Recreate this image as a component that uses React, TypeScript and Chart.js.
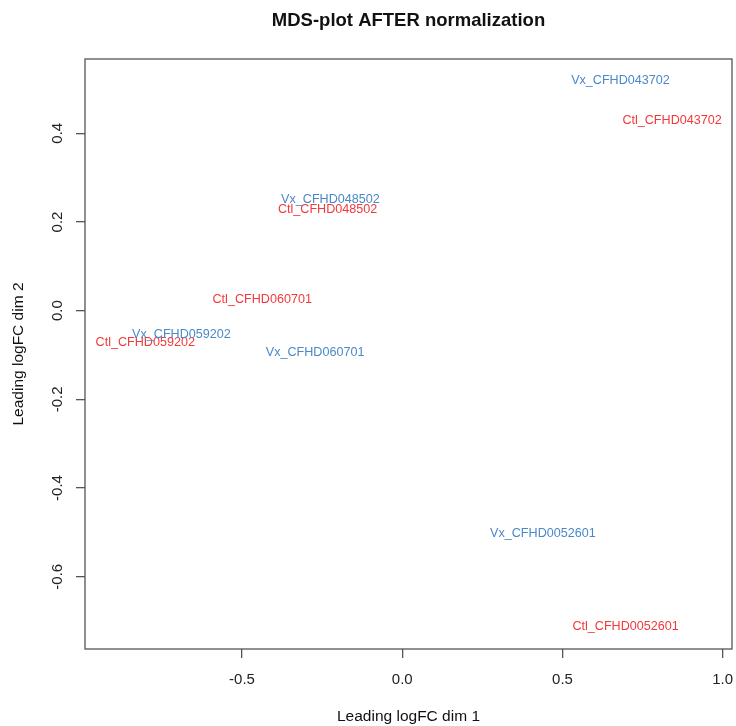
import React, { useEffect, useRef } from "react";
import { Chart, registerables } from "chart.js";

Chart.register(...registerables);

const ctlNames = ["Ctl_CFHD043702", "Ctl_CFHD048502", "Ctl_CFHD060701", "Ctl_CFHD059202", "Ctl_CFHD0052601"];
const ctlX = [0.842, -0.233, -0.437, -0.802, 0.697];
const ctlY = [0.428, 0.229, 0.026, -0.071, -0.713];

const vxNames = ["Vx_CFHD043702", "Vx_CFHD048502", "Vx_CFHD059202", "Vx_CFHD060701", "Vx_CFHD0052601"];
const vxX = [0.681, -0.224, -0.689, -0.272, 0.439];
const vxY = [0.52, 0.25, -0.053, -0.095, -0.503];

const xTicks = [-0.5, 0, 0.5, 1.0];
const yTicks = [-0.6, -0.4, -0.2, 0, 0.2, 0.4];
const xRange = [-0.99, 1.029];
const yRange = [-0.763, 0.5675];

const TITLE = "MDS-plot AFTER normalization";
const X_TITLE = "Leading logFC dim 1";
const Y_TITLE = "Leading logFC dim 2";

const RED = "#f2383a";
const BLUE = "#4a88c9";
const FONT = '"Liberation Sans", Arial, sans-serif';

const labelPlugin = {
  id: "pointLabels",
  afterDatasetsDraw(chart: any) {
    const ctx = chart.ctx;
    chart.data.datasets.forEach((ds: any, i: number) => {
      const meta = chart.getDatasetMeta(i);
      ctx.save();
      ctx.font = `12.6px ${FONT}`;
      ctx.fillStyle = ds.labelColor;
      ctx.textAlign = "center";
      ctx.textBaseline = "middle";
      meta.data.forEach((el: any, j: number) => {
        ctx.fillText(ds.names[j], el.x, el.y);
      });
      ctx.restore();
    });
  },
};

const framePlugin = {
  id: "frameAndTitles",
  afterDraw(chart: any) {
    const ctx = chart.ctx;
    const a = chart.chartArea;
    ctx.save();
    ctx.strokeStyle = "#555";
    ctx.lineWidth = 1.3;
    ctx.strokeRect(a.left, a.top, a.right - a.left, a.bottom - a.top);

    const cx = (a.left + a.right) / 2;
    const cy = (a.top + a.bottom) / 2;
    ctx.fillStyle = "#111";
    ctx.textAlign = "center";
    ctx.textBaseline = "middle";
    ctx.font = `bold 18.5px ${FONT}`;
    ctx.fillText(TITLE, cx, 21);

    ctx.font = `15.5px ${FONT}`;
    ctx.fillText(X_TITLE, cx, 717);

    ctx.translate(19, cy);
    ctx.rotate(-Math.PI / 2);
    ctx.fillText(Y_TITLE, 0, 0);
    ctx.restore();
  },
};

export default function App() {
  const ref = useRef<HTMLCanvasElement>(null);

  useEffect(() => {
    document.body.style.margin = "0";
    const canvas = ref.current;
    if (!canvas) return;
    const chart = new Chart(canvas, {
      type: "scatter",
      data: {
        datasets: [
          {
            label: "Ctl",
            data: ctlX.map((x, i) => ({ x, y: ctlY[i] })),
            pointRadius: 0,
            names: ctlNames,
            labelColor: RED,
          } as any,
          {
            label: "Vx",
            data: vxX.map((x, i) => ({ x, y: vxY[i] })),
            pointRadius: 0,
            names: vxNames,
            labelColor: BLUE,
          } as any,
        ],
      },
      options: {
        animation: false,
        responsive: false,
        devicePixelRatio: 1,
        layout: { autoPadding: false, padding: { top: 59, right: 4, left: 0, bottom: 0 } },
        plugins: {
          legend: { display: false },
          tooltip: { enabled: false },
          title: { display: false },
        },
        scales: {
          x: {
            type: "linear",
            min: xRange[0],
            max: xRange[1],
            afterBuildTicks: (s: any) => {
              s.ticks = xTicks.map((v) => ({ value: v }));
            },
            afterFit: (s: any) => {
              s.height = 77;
              s.paddingLeft = 0;
              s.paddingRight = 0;
            },
            grid: {
              drawOnChartArea: false,
              drawTicks: true,
              tickLength: 9,
              color: "#555",
              lineWidth: 1.3,
            },
            border: { display: false },
            ticks: {
              font: { family: FONT, size: 15 },
              color: "#222",
              padding: 13,
              maxRotation: 0,
              autoSkip: false,
              callback: (v: any) => Number(v).toFixed(1),
            },
          },
          y: {
            type: "linear",
            min: yRange[0],
            max: yRange[1],
            afterBuildTicks: (s: any) => {
              s.ticks = yTicks.map((v) => ({ value: v }));
            },
            afterFit: (s: any) => {
              s.width = 85;
              s.paddingTop = 0;
              s.paddingBottom = 0;
            },
            grid: {
              drawOnChartArea: false,
              drawTicks: true,
              tickLength: 9,
              color: "#555",
              lineWidth: 1.3,
            },
            border: { display: false },
            ticks: {
              font: { family: FONT, size: 15 },
              color: "#222",
              padding: 5,
              minRotation: 90,
              maxRotation: 90,
              crossAlign: "center",
              autoSkip: false,
              callback: (v: any) => Number(v).toFixed(1),
            },
          },
        },
      } as any,
      plugins: [labelPlugin, framePlugin],
    });
    return () => chart.destroy();
  }, []);

  return (
    <div style={{ width: 736, height: 726, background: "#fff" }}>
      <canvas ref={ref} width={736} height={726} style={{ display: "block" }} />
    </div>
  );
}
